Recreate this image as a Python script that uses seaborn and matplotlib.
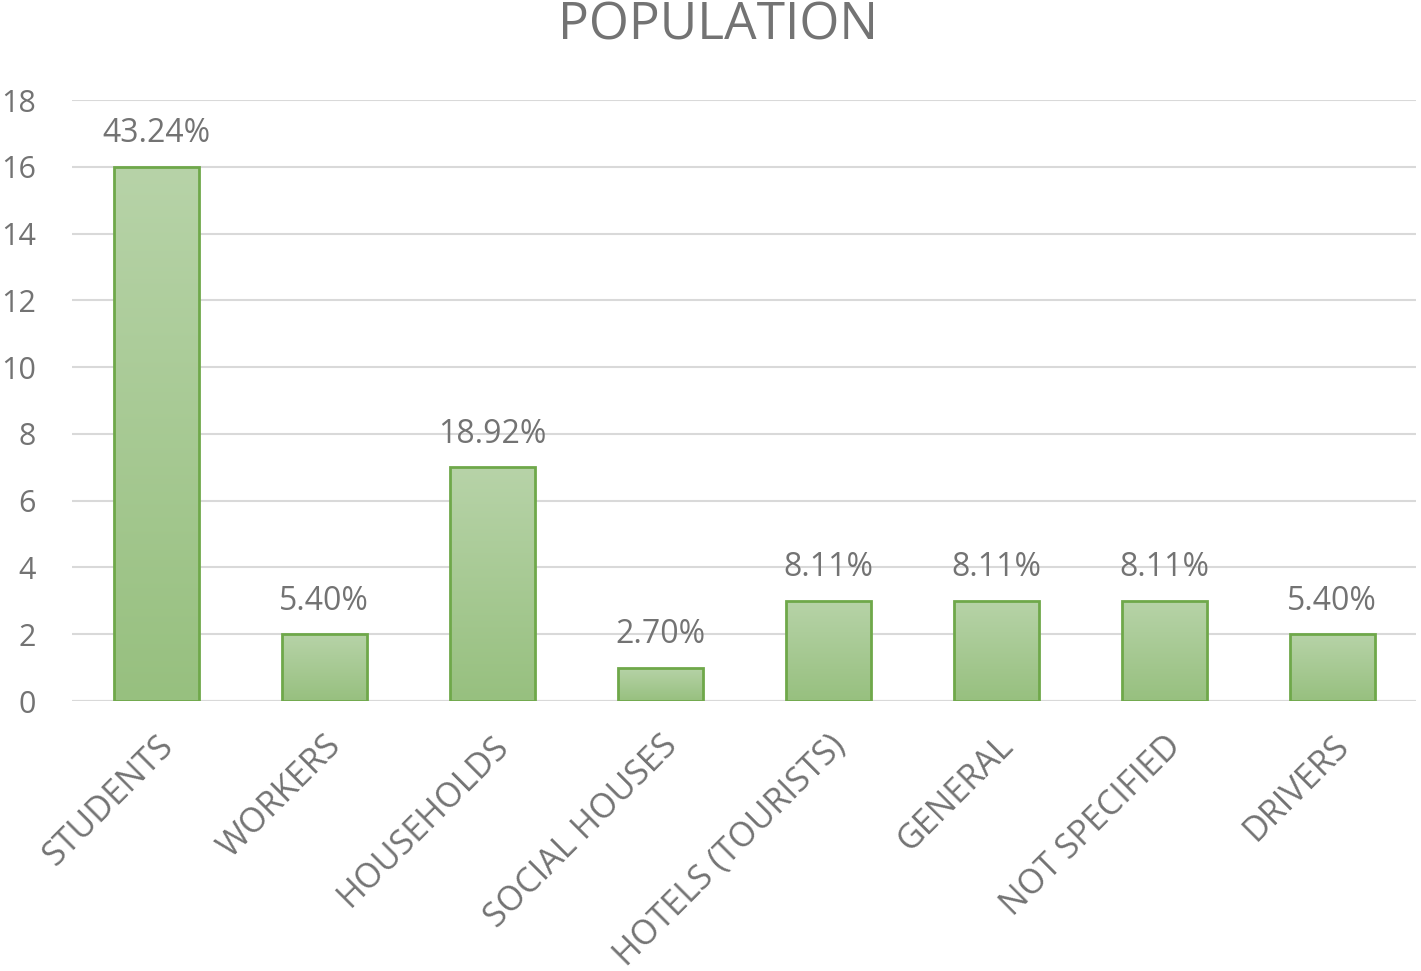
import numpy as np
import pandas as pd
import seaborn as sns
import matplotlib.pyplot as plt
import matplotlib.colors as mcolors

categories = ["STUDENTS", "WORKERS", "HOUSEHOLDS", "SOCIAL HOUSES",
              "HOTELS (TOURISTS)", "GENERAL", "NOT SPECIFIED", "DRIVERS"]
counts = [16, 2, 7, 1, 3, 3, 3, 2]
percent_labels = ["43.24%", "5.40%", "18.92%", "2.70%", "8.11%", "8.11%", "8.11%", "5.40%"]

df = pd.DataFrame({"category": categories, "count": counts})

sns.set_theme(style="white")
plt.rcParams['font.family'] = ['Open Sans', 'DejaVu Sans']
grey = "#737373"

fig = plt.figure(figsize=(14.21, 9.71), dpi=100)
ax = fig.add_axes([0.0507, 0.278, 0.9458, 0.619])

sns.barplot(data=df, x="category", y="count", ax=ax, width=0.506,
            color="#a5c890", edgecolor="#6fa84a", linewidth=2, zorder=3)

# gradient fill inside each bar
cmap = mcolors.LinearSegmentedColormap.from_list("g", ["#97c07f", "#b7d3a8"])
grad = np.linspace(0, 1, 256).reshape(-1, 1)
for p in ax.patches:
    x0, y0 = p.get_x(), p.get_y()
    w, h = p.get_width(), p.get_height()
    im = ax.imshow(grad, cmap=cmap, origin="lower", aspect="auto",
                   extent=[x0, x0 + w, y0, y0 + h], zorder=2.5)
    im.set_clip_path(p)
    p.set_facecolor("none")

for i, (c, lab) in enumerate(zip(counts, percent_labels)):
    ax.text(i, c + 0.5, lab, ha="center", va="bottom", fontsize=23, color=grey)

ax.set_xlim(-0.5, 7.5)
ax.set_ylim(0, 18)
ax.set_yticks(range(0, 19, 2))
ax.yaxis.grid(True, color="#d9d9d9", linewidth=1.5, zorder=0)
ax.set_axisbelow(True)
for s in ax.spines.values():
    s.set_visible(False)
ax.axhline(0, color="#d9d9d9", linewidth=1.5, zorder=1)

ax.set_xlabel("")
ax.set_ylabel("")
ax.tick_params(axis="y", labelsize=22, colors=grey, length=0, pad=26)
ax.tick_params(axis="x", labelsize=24.5, colors=grey, length=0, pad=20)
plt.setp(ax.get_xticklabels(), rotation=45, ha="right", rotation_mode="anchor")

fig.text(0.5055, 0.999, "POPULATION", ha="center", va="top", fontsize=37, color=grey)

fig.savefig("out.png", dpi=100, facecolor="white")
